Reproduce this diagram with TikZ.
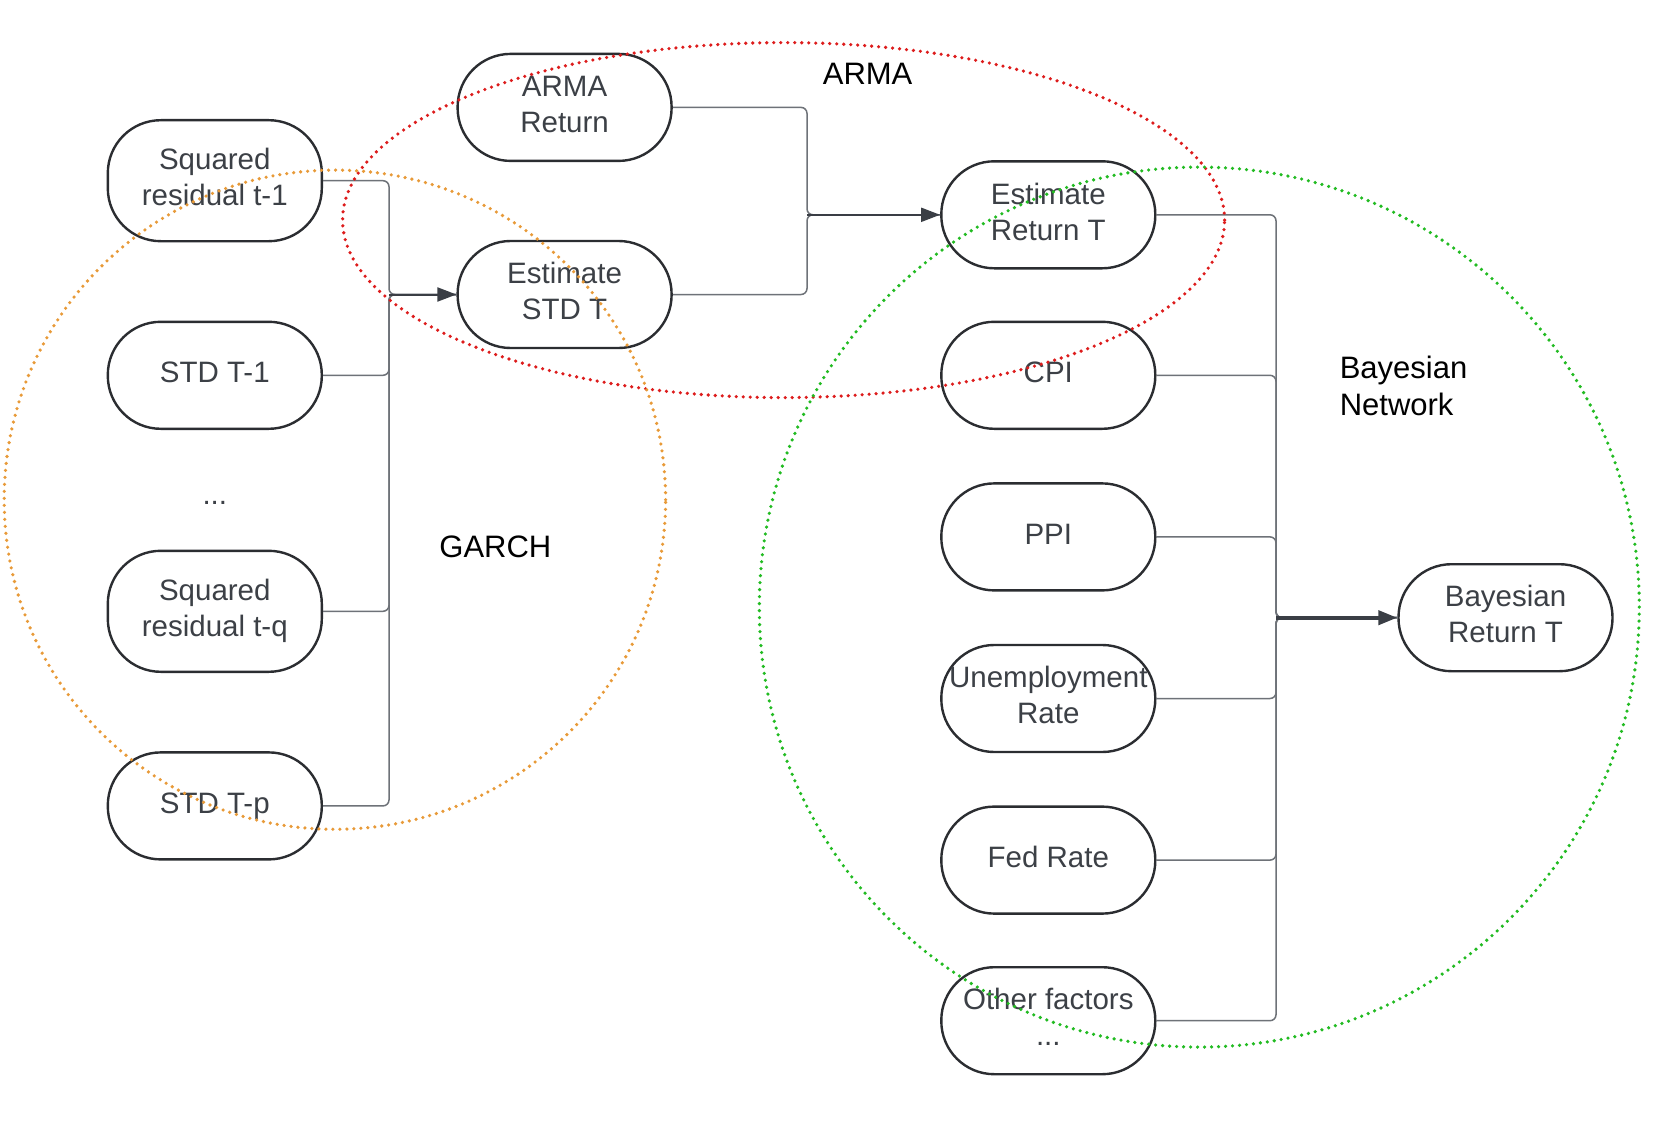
\documentclass[tikz,border=0pt]{standalone}
\usepackage{fontspec}
\setmainfont{Liberation Sans}
\usetikzlibrary{arrows.meta,calc}
\definecolor{txtgray}{HTML}{3C4046}
\definecolor{bordergray}{HTML}{2B2D31}
\definecolor{conngray}{HTML}{6E7278}
\definecolor{arrowdark}{HTML}{3A3E45}
\definecolor{dotred}{HTML}{DD1C1C}
\definecolor{dotorange}{HTML}{E89A38}
\definecolor{dotgreen}{HTML}{22BB22}
\tikzset{
  pill/.style={draw=bordergray, line width=2.4pt, rounded corners=53pt,
    minimum width=214pt, minimum height=107pt, inner sep=0pt, align=center,
    text=txtgray, font=\fontsize{29.5}{36}\selectfont},
  tallpill/.style={pill, minimum height=121pt},
  conn/.style={draw=conngray, line width=1.5pt, rounded corners=6pt},
  arr/.style={draw=arrowdark, line width=2pt, -{Triangle[length=19pt,width=14pt]}},
  grp/.style={line width=3.6pt, line cap=round, dash pattern=on 0pt off 7pt},
  lbl/.style={text=black, font=\fontsize{31}{37}\selectfont, inner sep=0pt}
}
\newcommand{\up}[1]{\raisebox{3pt}{\begin{tabular}{@{}c@{}}#1\end{tabular}}}
\begin{document}
\begin{tikzpicture}[x=1pt,y=-1pt]
\useasboundingbox (0,0) rectangle (1667,1129);
\fill[white] (0,0) rectangle (1667,1129);

% nodes
\node[pill] (arma) at (564.6,107.4) {\up{ARMA\\Return}};
\node[tallpill] (sq1) at (214.8,180.7) {\up{Squared\\residual t-1}};
\node[pill] (estd) at (564.6,294.5) {\up{Estimate\\STD T}};
\node[pill] (std1) at (214.8,375.3) {\up{STD T-1}};
\node[text=txtgray, font=\fontsize{29.5}{36}\selectfont] (dots) at (214.8,502.6) {...};
\node[tallpill] (sqq) at (214.8,611.3) {\up{Squared\\residual t-q}};
\node[pill] (stdp) at (214.8,805.9) {\up{STD T-p}};
\node[pill] (eret) at (1048.3,214.8) {\up{Estimate\\Return T}};
\node[pill] (cpi) at (1048.3,375.3) {\up{CPI}};
\node[pill] (ppi) at (1048.3,536.9) {\up{PPI}};
\node[pill] (unemp) at (1048.3,698.5) {\up{Unemployment\\Rate}};
\node[pill] (fed) at (1048.3,860.1) {\up{Fed Rate}};
\node[pill] (other) at (1048.3,1020.7) {\up{Other factors\\...}};
\node[pill] (bret) at (1505.5,617.7) {\up{Bayesian\\Return T}};

% buses
\coordinate (bus1) at (389,0);
\coordinate (bus2) at (807,0);
\coordinate (bus3) at (1276,0);

% GARCH connectors
\foreach \s in {sq1,std1,sqq,stdp}{
  \draw[conn] (\s.east) -- (\s.east -| bus1) -- (bus1 |- estd.west) -- (estd.west);
}
\draw[arr] (bus1 |- estd.west) -- (estd.west);

% ARMA connectors
\foreach \s in {arma,estd}{
  \draw[conn] (\s.east) -- (\s.east -| bus2) -- (bus2 |- eret.west) -- (eret.west);
}
\draw[arr] (bus2 |- eret.west) -- (eret.west);

% Bayesian connectors
\foreach \s in {eret,cpi,ppi,unemp,fed,other}{
  \draw[conn] (\s.east) -- (\s.east -| bus3) -- (bus3 |- bret.west) -- (bret.west);
}
\draw[arr, line width=4pt] (bus3 |- bret.west) -- (bret.west);

% group outlines
\draw[grp, draw=dotred] (783.6,220.1) ellipse [x radius=441pt, y radius=177.5pt];
\draw[grp, draw=dotorange] (334.9,499.7) ellipse [x radius=330.7pt, y radius=329.6pt];
\draw[grp, draw=dotgreen] (1199.3,607.1) ellipse [x radius=440pt, y radius=440pt];

% labels
\node[lbl] (larma) at (867.6,73.4) {ARMA};
\node[lbl] (lgarch) at (495.4,546.5) {GARCH};
\node[lbl, anchor=west, align=left] (lbn) at (1339.6,386) {Bayesian\\Network};
\end{tikzpicture}
\end{document}
